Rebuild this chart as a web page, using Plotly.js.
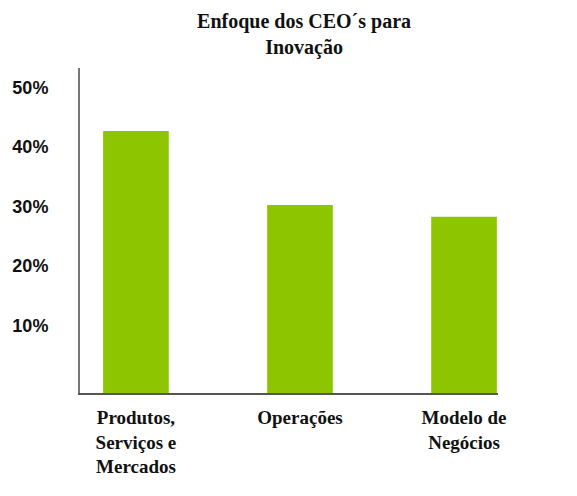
<!DOCTYPE html>
<html>
<head>
<meta charset="utf-8">
<script src="https://cdn.plot.ly/plotly-3.0.1.min.js"></script>
<style>
  html, body { margin: 0; padding: 0; background: #fff; }
  #chart { width: 577px; height: 496px; }
</style>
</head>
<body>
<div id="chart"></div>
<script>
// categorias e valores (% dos CEOs)
var categorias = ['Produtos,<br>Serviços e<br>Mercados', 'Operações', 'Modelo de<br>Negócios'];
var valores = [44, 31.6, 29.6];
var yTicks = [10, 20, 30, 40, 50];

var trace1 = {
  x: [0, 1, 2],
  y: valores,
  type: 'bar',
  width: 0.40,
  marker: {color: '#8dc600'},
  hoverinfo: 'skip'
};

var layout = {
  width: 577,
  height: 496,
  margin: {l: 80, r: 79, t: 68, b: 103},
  paper_bgcolor: '#fff',
  plot_bgcolor: '#fff',
  showlegend: false,
  title: {
    text: '<b>Enfoque dos CEO´s para<br>Inovação</b>',
    font: {family: 'Liberation Serif, Times New Roman, serif', size: 20, color: '#111'},
    x: 0.527, xref: 'container', xanchor: 'center',
    y: 0.944, yref: 'container', yanchor: 'top'
  },
  xaxis: {
    range: [-0.341, 2.207],
    tickmode: 'array',
    tickvals: [0, 1, 2],
    ticktext: categorias.map(function(c) { return '<b>' + c + '</b>'; }),
    tickfont: {family: 'Liberation Serif, Times New Roman, serif', size: 19, color: '#111'},
    showline: true, linecolor: '#555', linewidth: 2,
    showgrid: false, zeroline: false, ticks: '',
    ticklabelstandoff: 6
  },
  yaxis: {
    range: [0, 54.6],
    tickmode: 'array',
    tickvals: yTicks,
    ticktext: yTicks.map(function(v) { return v + '%'; }),
    tickfont: {family: 'Liberation Sans, Arial, sans-serif', size: 18, color: '#111', weight: 'bold'},
    showline: true, linecolor: '#777', linewidth: 2,
    showgrid: false, zeroline: false, ticks: '',
    ticklabelstandoff: 26,
    ticklabelshift: -8
  }
};

Plotly.newPlot('chart', [trace1], layout, {staticPlot: true, displayModeBar: false});
</script>
</body>
</html>
